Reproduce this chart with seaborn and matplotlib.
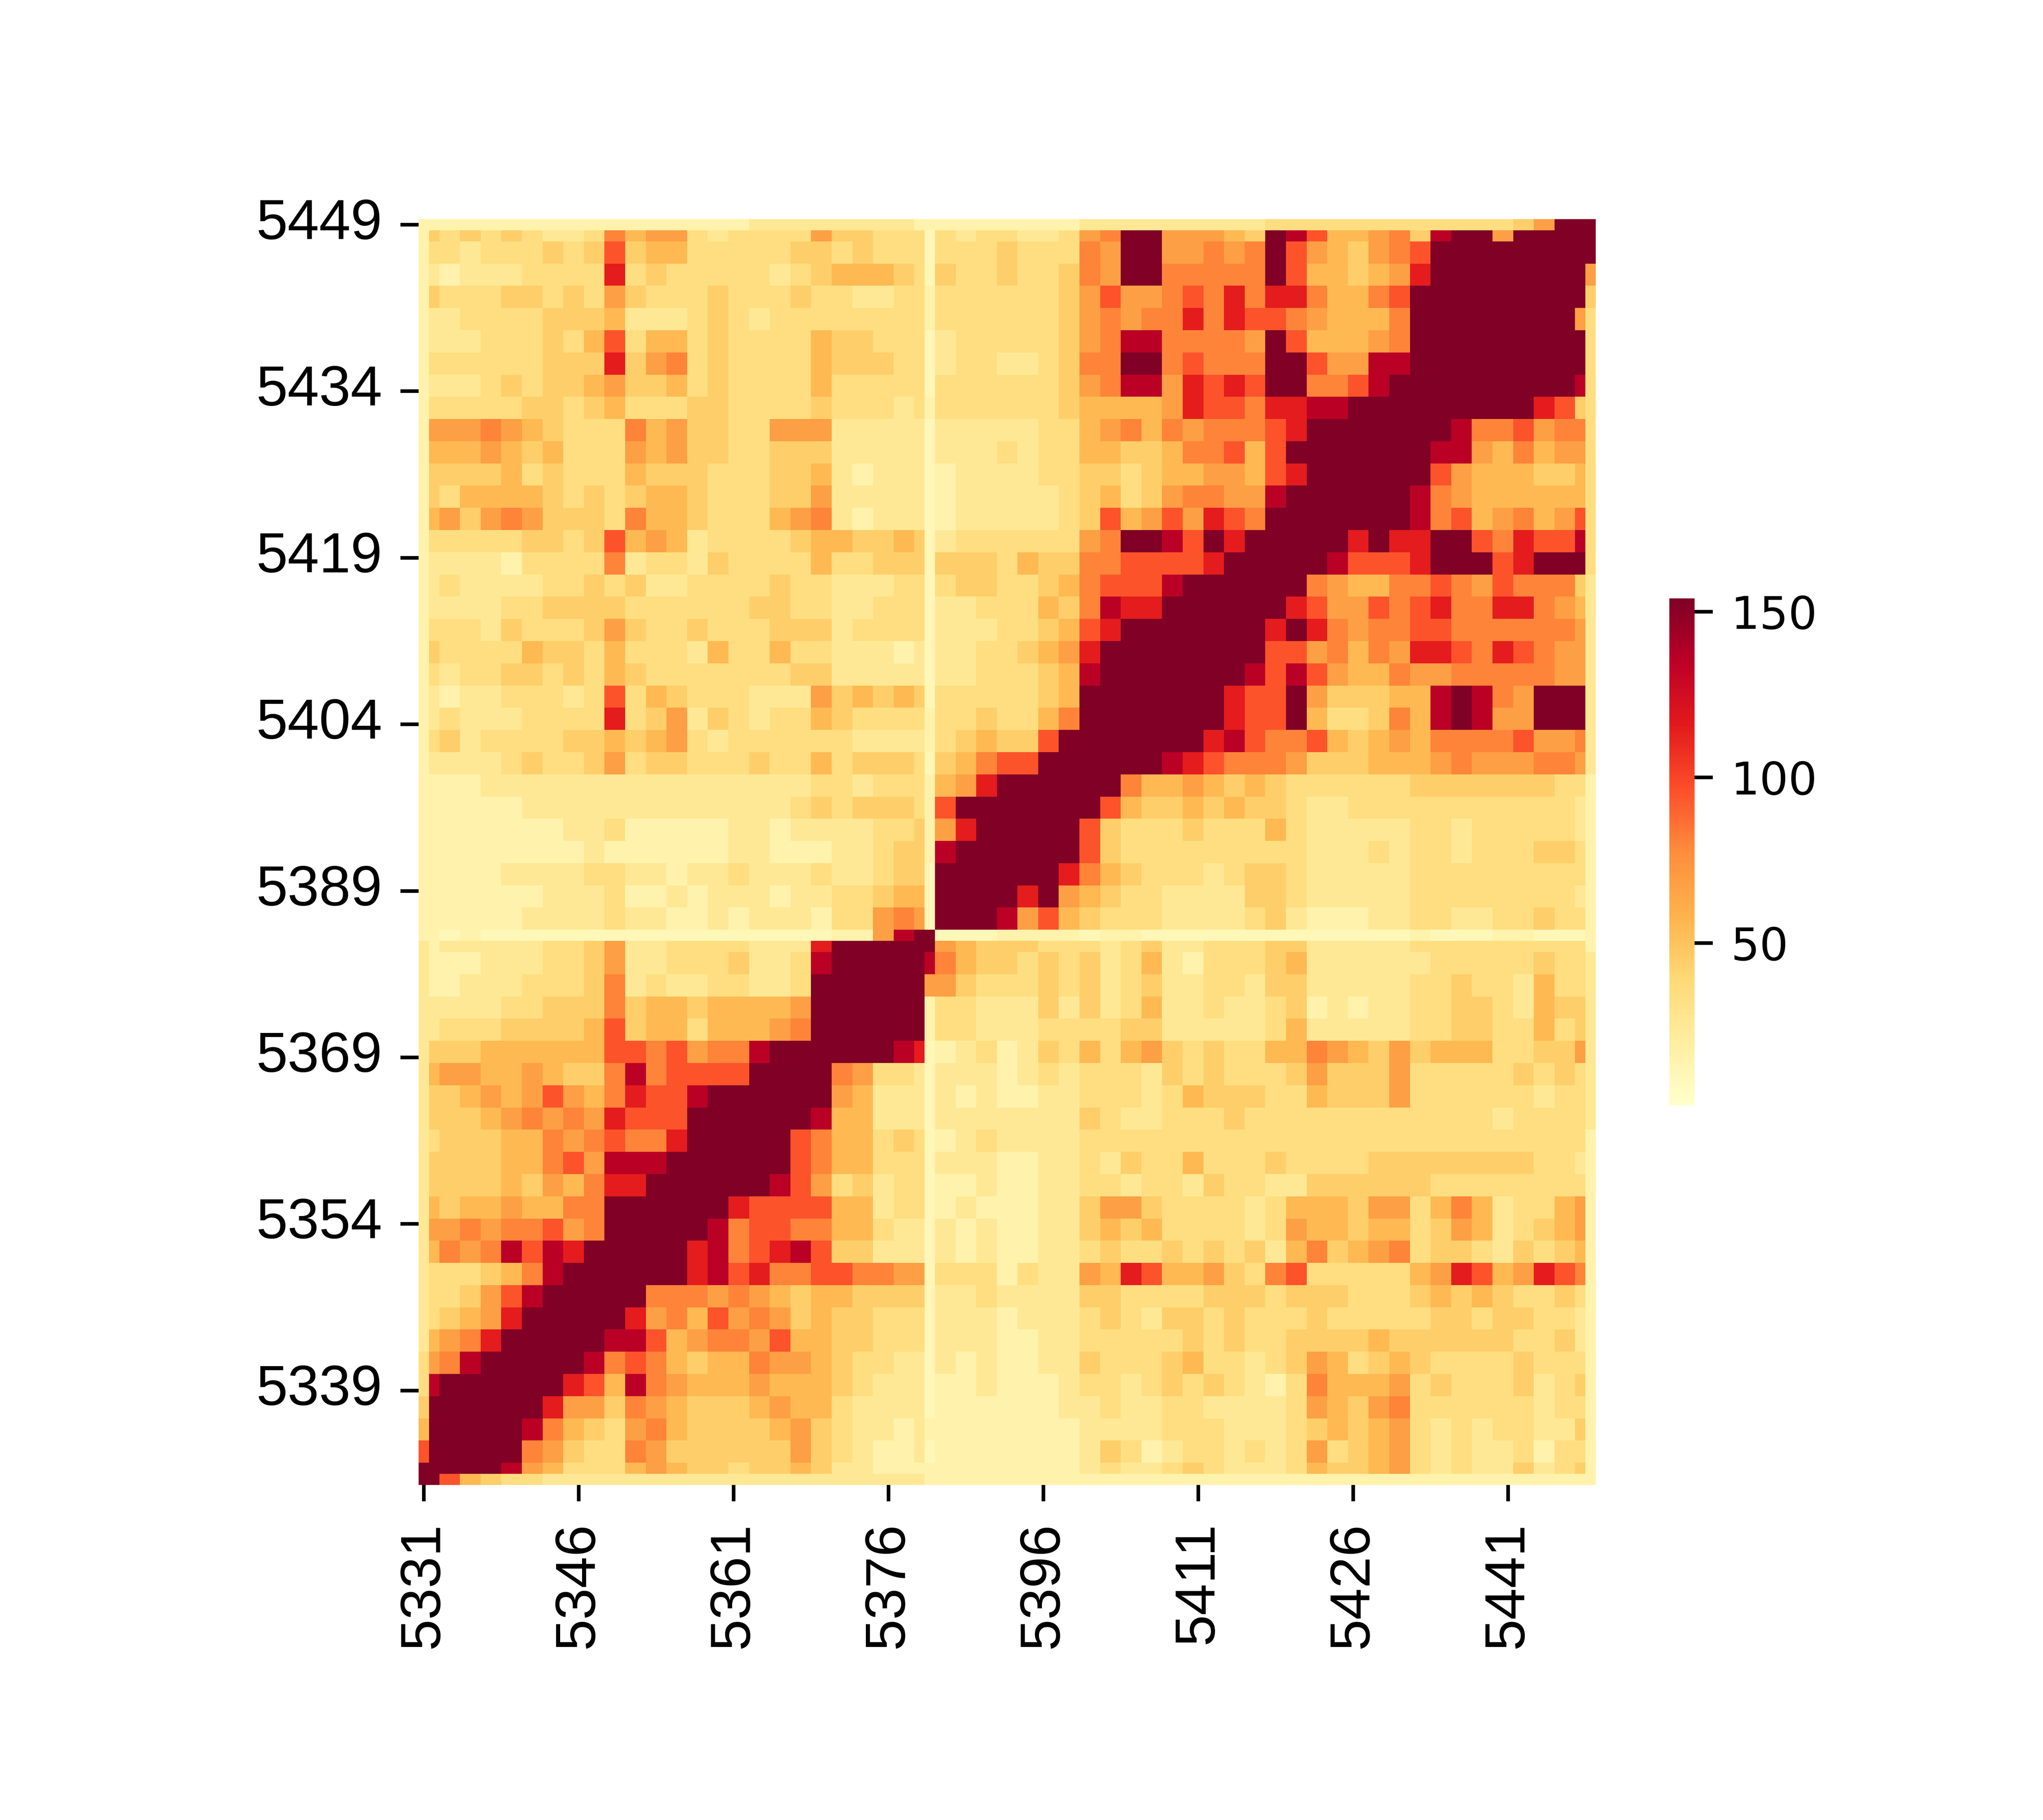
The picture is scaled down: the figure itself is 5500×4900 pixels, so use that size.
import numpy as np
import pandas as pd
import matplotlib
matplotlib.use("Agg")
import matplotlib.pyplot as plt
import seaborn as sns

# Genomic bins on both axes (five bins are missing after 5380)
bins = list(range(5331, 5381)) + list(range(5386, 5450))

# Contact level of each code
levels = {'0': 10, '1': 15, '2': 25, '3': 35, '4': 45, '5': 55, '6': 68,
          '7': 80, '8': 95, '9': 115, 'a': 135, 'x': 154}

# Symmetric matrix read in blocks of two bins. Row n holds the blocks 0..n;
# a row that stops early continues in the saturated diagonal ('x').
lower_rows = [
    "x", "xx", "xxx", "xxxx", "axxxx", "67ax", "5679x", "34569x", "33468ax",
    "333457ax", "5767a8a9xx", "667677867x", "545565577x", "44445465799x",
    "444455786aaax", "3444557678779x", "4445676769888x", "4456568657988ax",
    "5665565447a78888x", "4445555558878677ax", "2333444458455355567x",
    "2222334447455455556x", "1122233347232233223x", "1112223346223334223ax",
    "12222233462233332229x",
]
far_left_rows = [
    "1111122223221121222133676", "1111112223112122212233455",
    "1111222233221223222322344", "1111111121111112211122344",
    "1111111223111112212222334", "1111122222222222223434443",
    "1112222222222222222332333", "2222343346344333433534443",
    "3423333445456323333332222", "2322233339346243233543333",
    "2122333238354333222645454", "3233443435433333334422222",
    "4333354435333253353322212", "3332433346433433344423333",
    "2222334444333333443322333", "2322223343422333343322233",
    "2222133337233243333533444", "3333344348565233334554454",
    "5646764443755433356721222", "4355554343455433344622222",
    "4444534333544433344521222", "5556545333656443344422222",
    "6667654333756443366622222", "3333344345333443333433323",
    "2223434456445343333533333", "3333334449467343333544433",
    "2223334358355343333544333", "2233334445222343233333333",
    "4333443436433343334332233", "2122233339343333323455543",
    "3323334348455333334434333", "4343432237566323333644333",
]
near_right_rows = [
    "x", "", "", "a", "69", "8", "569", "45788", "345448", "3343357",
    "3333345", "2233345a", "22334569", "222334589", "22333547a99",
    "34433457888a", "44435447788889", "233333367xxa8x9", "1222223485686987",
    "1222223453467766a", "122223344345566589", "22232335544577858",
    "222223356757677789", "333333455556988799aa", "333333467aa69898xx778a",
    "233223477xx78777xx866aa", "233333467aa77776x855567",
    "33333346767797988765557", "33333346866787979975578",
    "433433476xx77777x8554569", "333433376xx66767x8654678",
    "323322367xx66654xa855674axx6xxxx",
]

# Single pale bins that break the two-bin blocks
first_bin_row = "x8543322222222222222222221111111111111111111111111111111111"[:57]
gap_bin_row = "1010000000000000000011" + "6ax" + "00011110110000000000000100011000"
last_bin_row = "1111111111111111222222221" + "11111" + "1122222222" + "2333333" + "3333334" + "6xx"

tick_step = 15
colorbar_ticks = [50, 100, 150]
value_min, value_max = 1, 154

# Assemble the matrix from the value rows
upper_rows = lower_rows + [a + b for a, b in zip(far_left_rows, near_right_rows)]
blocks = np.full((57, 57), float(levels['x']))
for n, row in enumerate(upper_rows):
    for k, code in enumerate(row):
        blocks[n, k] = blocks[k, n] = levels[code]
matrix = np.repeat(np.repeat(blocks, 2, axis=0), 2, axis=1)
for index, codes in ((0, first_bin_row), (49, gap_bin_row), (113, last_bin_row)):
    line = np.repeat([levels[c] for c in codes], 2)
    matrix[index, :] = line
    matrix[:, index] = line

frame = pd.DataFrame(matrix, index=bins, columns=bins).iloc[::-1]

sns.set_theme(style="white")
plt.rcParams['font.family'] = ['Liberation Sans', 'DejaVu Sans']

fig = plt.figure(figsize=(5.5, 4.9), dpi=1000)
ax = fig.add_axes([1127 / 5500, 1 - 3998 / 4900, 3169 / 5500, 3408 / 4900])
cax = fig.add_axes([4494 / 5500, 1 - 2976 / 4900, 68 / 5500, 1365 / 4900])

sns.heatmap(frame, ax=ax, cbar_ax=cax, cmap="YlOrRd", vmin=value_min, vmax=value_max,
            xticklabels=tick_step, yticklabels=tick_step, square=False)

ax.tick_params(axis='x', length=3.2, width=0.7, labelsize=11, pad=4, bottom=True,
               labelrotation=90, color='black', labelcolor='black')
ax.tick_params(axis='y', length=3.5, width=0.7, labelsize=11, pad=3.5, left=True,
               labelrotation=0, color='black', labelcolor='black')

cax.yaxis.set_ticks(colorbar_ticks)
cax.tick_params(axis='y', right=True, length=3.5, width=0.7, labelsize=8.8, pad=3.5,
                color='black', labelcolor='black')
for label in cax.get_yticklabels():
    label.set_fontfamily('DejaVu Sans')

fig.savefig("out.png", dpi=1000, facecolor="white")
